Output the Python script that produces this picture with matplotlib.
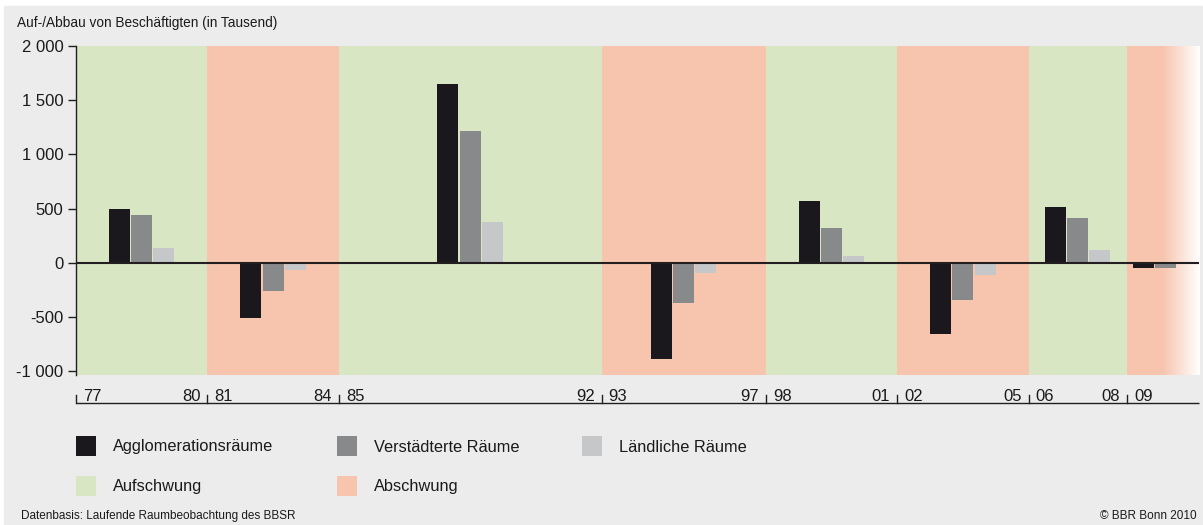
import numpy as np
import matplotlib
matplotlib.use("Agg")
import matplotlib.pyplot as plt
from matplotlib import font_manager as fm
from matplotlib.transforms import blended_transform_factory
from matplotlib.colors import to_rgb

names = {f.name for f in fm.fontManager.ttflist}
if "Liberation Sans Narrow" in names:
    FONT, NARROW = "Liberation Sans Narrow", True
elif "Liberation Sans" in names:
    FONT, NARROW = "Liberation Sans", False
else:
    FONT, NARROW = "DejaVu Sans", False
plt.rcParams["font.family"] = [FONT, "DejaVu Sans"]

if NARROW:
    FS_TICK, FS_XT, FS_TITLE, FS_LEG, FS_SMALL = 12.5, 12.5, 10, 12.5, 8.5
else:
    FS_TICK, FS_XT, FS_TITLE, FS_LEG, FS_SMALL = 12, 12, 9.8, 11.8, 8.5

# ---------------- data ----------------
period_start = [1977, 1981, 1985, 1993, 1998, 2002, 2006, 2009]
period_end = [1981, 1985, 1993, 1998, 2002, 2006, 2009, 2011.35]
start_labels = ["77", "81", "85", "93", "98", "02", "06", "09"]
end_labels = ["80", "84", "92", "97", "01", "05", "08", ""]
phase = ["up", "down", "up", "down", "up", "down", "up", "down"]

series_names = ["Agglomerationsräume", "Verstädterte Räume", "Ländliche Räume"]
agglo = [500, -510, 1650, -890, 570, -660, 515, -45]
verst = [440, -260, 1220, -370, 320, -340, 415, -45]
laend = [140, -70, 375, -90, 65, -110, 120, 0]

yticks = [2000, 1500, 1000, 500, 0, -500, -1000]
ytick_labels = ["2 000", "1 500", "1 000", "500", "0", "-500", "-1 000"]

# ---------------- style ----------------
GREEN = "#d9e6c4"
SALMON = "#f7c5ae"
BG = "#ececec"
C_SERIES = ["#1a181c", "#88898b", "#c6c7c9"]
AXC = "#231f20"
TXT = "#1a1a1a"

W, H = 1203, 525
fig = plt.figure(figsize=(W / 100, H / 100), dpi=100)
fig.patch.set_facecolor("white")
fig.add_artist(plt.Rectangle((4 / W, 0), (1202 - 4) / W, (H - 6) / H,
                             transform=fig.transFigure, color=BG, zorder=-10))

L, R, T, B = 76, 1199, 46, 375
ax = fig.add_axes([L / W, 1 - B / H, (R - L) / W, (B - T) / H])
ax.set_facecolor("none")
XMAX = 2011.19
YMIN, YMAX = -1035, 2000

fade_start = 2010.09
for s, e, p in zip(period_start, period_end, phase):
    col = GREEN if p == "up" else SALMON
    if e > XMAX:
        ax.axvspan(s, fade_start, color=col, lw=0, zorder=0)
        c0 = np.array(to_rgb(col))
        c1 = np.array([1.0, 1.0, 1.0])
        t = np.linspace(0, 1, 256)[None, :, None]
        img = c0 * (1 - t) + c1 * t
        ax.imshow(img, extent=(fade_start, XMAX, YMIN, YMAX), aspect="auto",
                  zorder=0, interpolation="bilinear")
    else:
        ax.axvspan(s, e, color=col, lw=0, zorder=0)

ax.set_xlim(1977, XMAX)
ax.set_ylim(YMIN, YMAX)

px_per_year = (R - L) / (XMAX - 1977)
step = 22.2 / px_per_year
width = 21 / px_per_year
centers = [(s + e) / 2 for s, e in zip(period_start, period_end)]
for i, (vals, c) in enumerate(zip([agglo, verst, laend], C_SERIES)):
    xs = [cx + (i - 1) * step for cx in centers]
    ax.bar(xs, vals, width=width, color=c, lw=0, zorder=2)

ax.axhline(0, color=AXC, lw=1.5, zorder=3)

for sp in ["top", "right", "bottom"]:
    ax.spines[sp].set_visible(False)
ax.spines["left"].set_color(AXC)
ax.spines["left"].set_linewidth(1.0)
ax.set_yticks(yticks)
ax.set_yticklabels(ytick_labels)
ax.tick_params(axis="y", length=6, width=1.0, color=AXC, pad=3,
               labelsize=FS_TICK, labelcolor=TXT)
ax.set_xticks([])

# custom x axis below plot
tr = blended_transform_factory(ax.transData, ax.transAxes)
h = B - T
y_line = (B - 403) / h
y_tick = (B - 395) / h
y_lab = (B - 401) / h
ax.plot([1977, XMAX], [y_line, y_line], transform=tr, color=AXC, lw=1.0,
        clip_on=False, solid_capstyle="butt")
for s in period_start:
    ax.plot([s, s], [y_line, y_tick], transform=tr, color=AXC, lw=1.0,
            clip_on=False)
gap = 7 / px_per_year
for s, e, sl, el in zip(period_start, period_end, start_labels, end_labels):
    ax.text(s + gap, y_lab, sl, transform=tr, ha="left", va="baseline",
            fontsize=FS_XT, color=TXT)
    if el:
        ax.text(e - gap, y_lab, el, transform=tr, ha="right", va="baseline",
                fontsize=FS_XT, color=TXT)

fig.text(17 / W, 1 - 23 / H, "Auf-/Abbau von Beschäftigten (in Tausend)",
         ha="left", va="center", fontsize=FS_TITLE, color=TXT)

leg_items = [
    (76, 446, C_SERIES[0], series_names[0]),
    (337, 446, C_SERIES[1], series_names[1]),
    (582, 446, C_SERIES[2], series_names[2]),
    (76, 486, GREEN, "Aufschwung"),
    (337, 486, SALMON, "Abschwung"),
]
for x0, yc, c, lab in leg_items:
    fig.add_artist(plt.Rectangle((x0 / W, 1 - (yc + 10) / H), 20 / W, 20 / H,
                                 transform=fig.transFigure, color=c, lw=0))
    fig.text((x0 + 37) / W, 1 - (yc + 1) / H, lab, ha="left", va="center",
             fontsize=FS_LEG, color=TXT)

fig.text(21 / W, 1 - 516 / H, "Datenbasis: Laufende Raumbeobachtung des BBSR",
         ha="left", va="center", fontsize=FS_SMALL, color=TXT)
fig.text(1197 / W, 1 - 516 / H, "© BBR Bonn 2010",
         ha="right", va="center", fontsize=FS_SMALL, color=TXT)

fig.savefig("out.png", dpi=100, facecolor=fig.get_facecolor())
